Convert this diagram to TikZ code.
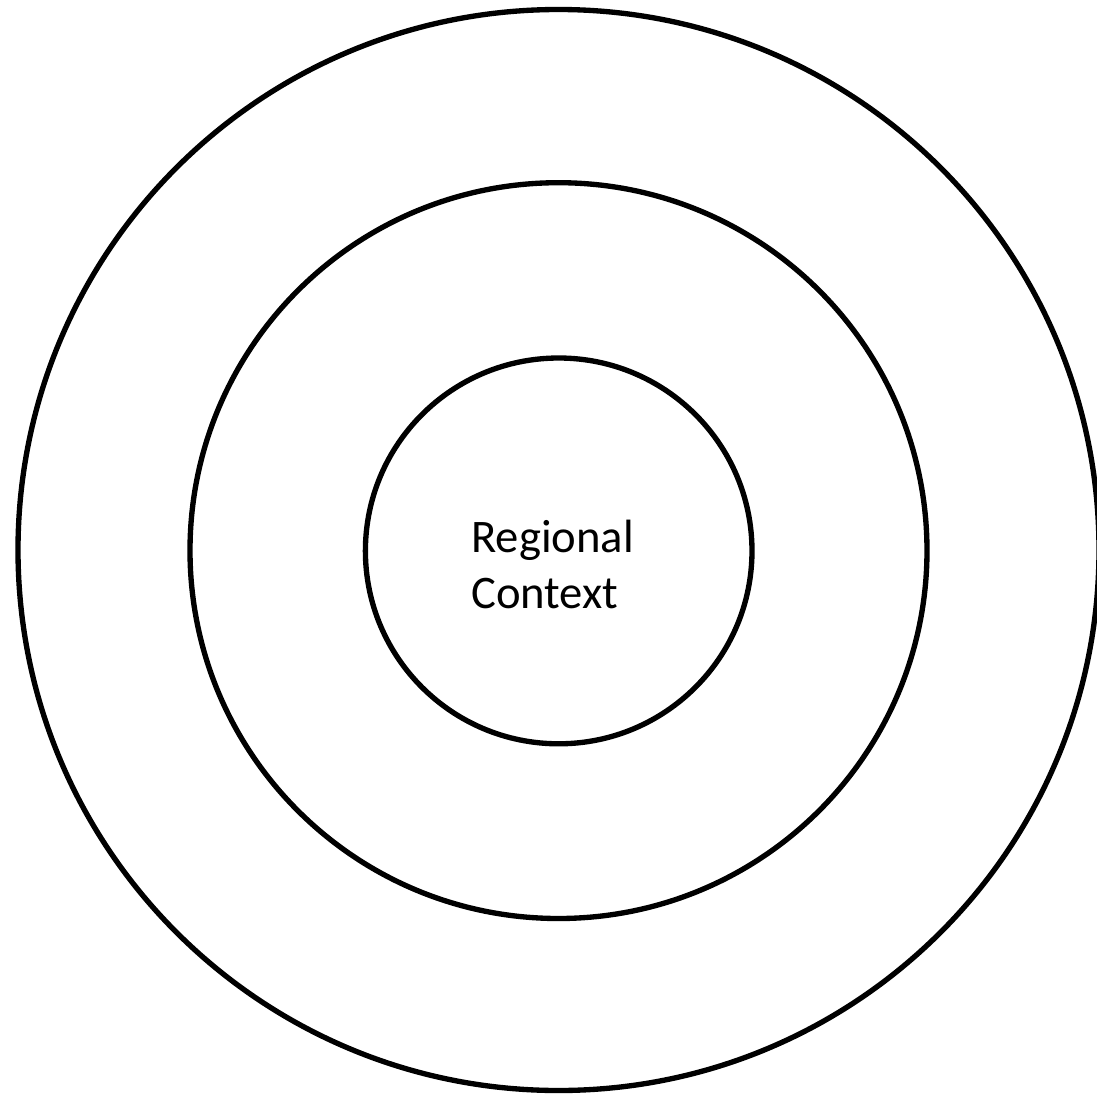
\documentclass[tikz,border=0pt]{standalone}
\usepackage{fontspec}
\setmainfont{Carlito}
\begin{document}
\begin{tikzpicture}[x=0.75pt,y=-0.75pt,
  ring/.style={draw=black,line width=4pt},
  lbl/.style={font=\fontsize{35}{42}\selectfont,align=left,inner sep=0pt}]
\useasboundingbox (0,0) rectangle (1097,1096);
\draw[ring] (558.5,550) ellipse [x radius=540.5, y radius=540.5];
\draw[ring] (558.5,550.6) ellipse [x radius=368.5, y radius=367.9];
\draw[ring] (558.7,550.9) ellipse [x radius=193.3, y radius=192.9];
\node[lbl,anchor=base west] (t) at (471,608) {Regional\\Context};
\end{tikzpicture}
\end{document}
